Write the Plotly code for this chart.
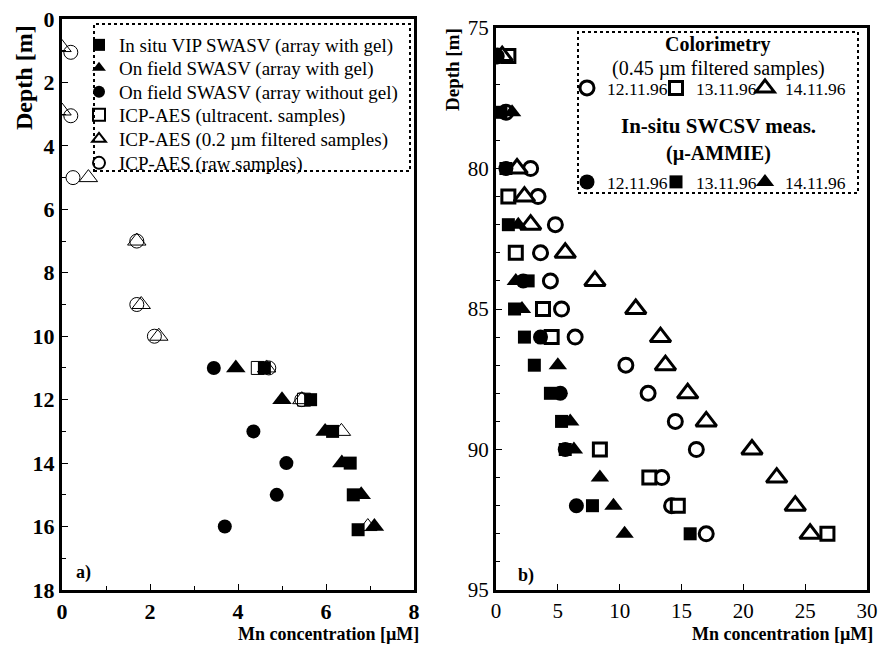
import plotly.graph_objects as go

W, H = 880, 647

# ---------------- Panel a) data (depth in m, Mn in µM) ----------------
depth_vip = [11, 12, 13, 14, 15, 16.1]
mn_vip = [4.6, 5.65, 6.15, 6.55, 6.62, 6.73]
depth_gel = [11, 12, 13, 14, 15, 16]
mn_gel = [3.95, 5.0, 5.98, 6.36, 6.8, 7.1]
depth_nogel = [11, 13, 14, 15, 16]
mn_nogel = [3.45, 4.35, 5.1, 4.88, 3.7]
depth_ultra = [11, 12]
mn_ultra = [4.45, 5.5]
depth_filt = [0.9, 2.9, 5, 7, 9, 10, 11, 12, 13, 16]
mn_filt = [0.0, 0.0, 0.6, 1.7, 1.8, 2.2, 4.65, 5.45, 6.35, 6.95]
depth_raw = [1.05, 3.05, 5, 7, 9, 10, 11, 12]
mn_raw = [0.2, 0.2, 0.25, 1.7, 1.7, 2.1, 4.7, 5.45]

# ---------------- Panel b) data ----------------
depth_c12 = [76, 78, 80, 81, 82, 83, 84, 85, 86, 87, 88, 89, 90, 91, 92, 93]
mn_c12 = [0.1, 0.8, 2.8, 3.4, 4.8, 3.6, 4.4, 5.3, 6.4, 10.5, 12.3, 14.5, 16.2, 13.4, 14.2, 17.0]
depth_c13 = [76, 81, 83, 85, 86, 90, 91, 92, 93]
mn_c13 = [1.0, 1.0, 1.6, 3.8, 4.5, 8.4, 12.4, 14.7, 26.8]
depth_c14 = [76, 80, 81, 82, 83, 84, 85, 86, 87, 88, 89, 90, 91, 92, 93]
mn_c14 = [0.5, 1.7, 2.3, 2.8, 5.6, 8.0, 11.3, 13.3, 13.7, 15.5, 17.0, 20.7, 22.7, 24.2, 25.4]
depth_s12 = [76, 80, 84, 86, 88, 90, 92]
mn_s12 = [0.1, 0.8, 2.2, 3.6, 5.2, 5.6, 6.5]
depth_s13 = [78, 80, 82, 84, 85, 86, 87, 88, 89, 90, 92, 93]
mn_s13 = [0.4, 0.8, 1.0, 2.6, 1.5, 2.3, 3.1, 4.4, 5.3, 5.6, 7.8, 15.7]
depth_s14 = [78, 82, 84, 85, 87, 89, 90, 91, 92, 93]
mn_s14 = [1.3, 1.8, 1.6, 2.1, 5.0, 6.0, 6.3, 8.4, 9.5, 10.4]

date_labels = ["12.11.96", "13.11.96", "14.11.96"]

SERIF = "Liberation Serif"


def px_x(p):
    return p / W


def px_y(p):
    return 1 - p / H


fig = go.Figure()
legends = {}
counter = [0]


def new_legend(x0, yc, size):
    counter[0] += 1
    key = "legend" if counter[0] == 1 else "legend%d" % counter[0]
    legends[key] = dict(x=px_x(x0), y=px_y(yc), xanchor="left", yanchor="middle",
                        font=dict(family=SERIF, size=size, color="black"),
                        bgcolor="rgba(0,0,0,0)", borderwidth=0)
    return key


# ---- panel a traces (drawn back to front), each with its own legend slot ----
left_specs = [
    # name, x, y, symbol, size, filled, legend row centre (px)
    ("ICP-AES (raw samples)", mn_raw, depth_raw, "circle-open", 14, False, 163),
    ("ICP-AES (0.2 µm filtered samples)", mn_filt, depth_filt, "triangle-up-open", 16, False, 139),
    ("ICP-AES (ultracent. samples)", mn_ultra, depth_ultra, "square-open", 13, False, 115),
    ("On field SWASV (array without gel)", mn_nogel, depth_nogel, "circle", 14, True, 92),
    ("On field SWASV (array with gel)", mn_gel, depth_gel, "triangle-up", 17, True, 68),
    ("In situ VIP SWASV (array with gel)", mn_vip, depth_vip, "square", 13, True, 45),
]
for name, x, y, sym, size, filled, row in left_specs:
    if filled:
        marker = dict(symbol=sym, size=size, color="black", line=dict(width=0))
    else:
        marker = dict(symbol=sym, size=size, color="black", line=dict(width=1, color="black"))
    leg = new_legend(79, row, 19)
    legends[leg]["itemsizing"] = "constant"
    fig.add_trace(go.Scatter(x=x, y=y, mode="markers", name=name, marker=marker,
                             xaxis="x", yaxis="y", legend=leg))

# ---- panel b traces ----
right_specs = [
    (date_labels[0], mn_c12, depth_c12, "circle", 14, False, 567, 88),
    (date_labels[1], mn_c13, depth_c13, "square", 13, False, 656, 88),
    (date_labels[2], mn_c14, depth_c14, "triangle-up", 18, False, 745, 88),
    (date_labels[0], mn_s12, depth_s12, "circle", 15, True, 567, 182),
    (date_labels[1], mn_s13, depth_s13, "square", 13, True, 656, 182),
    (date_labels[2], mn_s14, depth_s14, "triangle-up", 16, True, 745, 182),
]
for name, x, y, sym, size, filled, lx, ly in right_specs:
    if filled:
        marker = dict(symbol=sym, size=size, color="black", line=dict(width=0))
    else:
        marker = dict(symbol=sym, size=size, color="white", line=dict(width=3, color="black"))
    leg = new_legend(lx, ly, 17.5)
    fig.add_trace(go.Scatter(x=x, y=y, mode="markers", name=name, marker=marker,
                             xaxis="x2", yaxis="y2", legend=leg))

axis_common = dict(showline=True, mirror=True, linewidth=3, linecolor="black",
                   ticks="inside", ticklen=6, tickwidth=1, tickcolor="black",
                   showgrid=False, zeroline=False, automargin=False)

fig.update_layout(
    width=W, height=H,
    margin=dict(l=0, r=0, t=0, b=0, autoexpand=False),
    paper_bgcolor="white", plot_bgcolor="white",
    font=dict(family=SERIF, color="black"),
    showlegend=True,
    xaxis=dict(domain=[px_x(62), px_x(414)], range=[0, 8], dtick=2, anchor="y",
               minor=dict(dtick=1, ticks="inside", ticklen=4, tickcolor="black"),
               tickfont=dict(family=SERIF, size=22, weight="bold"), **axis_common),
    yaxis=dict(domain=[px_y(590), px_y(19)], range=[18, 0], dtick=2, anchor="x",
               minor=dict(dtick=1, ticks="inside", ticklen=4, tickcolor="black"),
               tickfont=dict(family=SERIF, size=22, weight="bold"), **axis_common),
    xaxis2=dict(domain=[px_x(496), px_x(867)], range=[0, 30], dtick=5, anchor="y2",
                tickfont=dict(family=SERIF, size=21), **axis_common),
    yaxis2=dict(domain=[px_y(590), px_y(28)], range=[95, 75], dtick=5, anchor="x2",
                minor=dict(dtick=1, ticks="inside", ticklen=4, tickcolor="black"),
                tickfont=dict(family=SERIF, size=21), **axis_common),
    **legends,
)

# dotted legend frames
fig.add_shape(type="rect", xref="paper", yref="paper",
              x0=px_x(94), x1=px_x(410), y0=px_y(171), y1=px_y(24),
              line=dict(color="black", width=2, dash="dot"))
fig.add_shape(type="rect", xref="paper", yref="paper",
              x0=px_x(578), x1=px_x(858), y0=px_y(193), y1=px_y(32),
              line=dict(color="black", width=2, dash="dot"))


def ann(text, x, y, size, bold=False, angle=0, xanchor="center"):
    fig.add_annotation(text=("<b>%s</b>" % text) if bold else text,
                       xref="paper", yref="paper", x=px_x(x), y=px_y(y),
                       xanchor=xanchor, yanchor="middle", showarrow=False,
                       textangle=angle, font=dict(family=SERIF, size=size, color="black"))


ann("Colorimetry", 718, 44, 20, bold=True)
ann("(0.45 µm filtered samples)", 718, 69, 20)
ann("In-situ SWCSV meas.", 718, 126, 21, bold=True)
ann("(µ-AMMIE)", 718, 153, 20, bold=True)

ann("Depth [m]", 24, 78, 24, bold=True, angle=-90)
ann("Depth [m]", 452, 70, 19, bold=True, angle=-90)
ann("Mn concentration [µM]", 328, 634, 18, bold=True)
ann("Mn concentration [µM]", 782, 634, 18, bold=True)
ann("a)", 83, 572, 18, bold=True)
ann("b)", 526, 575, 18, bold=True)

fig.write_html("out.html")
